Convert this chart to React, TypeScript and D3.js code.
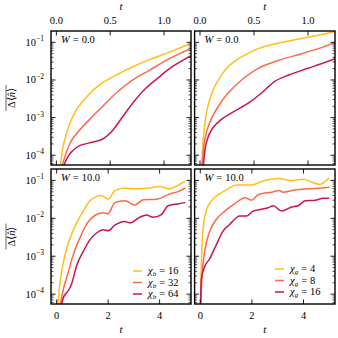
import React from "react";
import * as d3 from "d3";

// [t, value] pairs
const w0Bond16 = [[0.02,1.6e-5],[0.04,6.0e-5],[0.06,1.6e-4],[0.09,3.5e-4],[0.13,7.6e-4],[0.185,1.6e-3],[0.25,2.8e-3],[0.29,3.8e-3],[0.40,7.4e-3],[0.555,1.35e-2],[0.71,2.24e-2],[0.864,3.47e-2],[1.05,5.5e-2],[1.25,9.3e-2]];
const w0Bond32 = [[0.03,1.6e-5],[0.06,6.0e-5],[0.09,1.12e-4],[0.12,1.9e-4],[0.16,3.0e-4],[0.22,4.8e-4],[0.31,9.1e-4],[0.43,2.0e-3],[0.555,4.5e-3],[0.71,1.0e-2],[0.864,1.8e-2],[1.05,3.7e-2],[1.25,6.9e-2]];
const w0Bond64 = [[0.05,1.6e-5],[0.077,6.0e-5],[0.11,9.5e-5],[0.14,1.23e-4],[0.22,1.82e-4],[0.34,2.24e-4],[0.43,2.7e-4],[0.52,4.5e-4],[0.62,1.1e-3],[0.71,2.45e-3],[0.83,6.0e-3],[0.96,1.23e-2],[1.05,2.0e-2],[1.25,4.4e-2]];

const w0Gauss4 = [[0.0,1e-5],[0.015,5e-5],[0.03,2.7e-4],[0.06,1.35e-3],[0.11,4.5e-3],[0.17,1.0e-2],[0.26,2.24e-2],[0.385,4.1e-2],[0.54,6.8e-2],[0.725,9.5e-2],[0.94,0.126],[1.095,0.155],[1.25,0.19]];
const w0Gauss8 = [[0.0,1e-5],[0.02,5e-5],[0.045,2.7e-4],[0.09,7.4e-4],[0.17,2.0e-3],[0.26,4.5e-3],[0.385,1.0e-2],[0.54,2.04e-2],[0.725,3.3e-2],[0.94,5.0e-2],[1.095,6.8e-2],[1.25,0.1]];
const w0Gauss16 = [[0.01,1e-5],[0.03,5e-5],[0.06,2.24e-4],[0.11,4.9e-4],[0.20,9.1e-4],[0.32,1.48e-3],[0.45,2.45e-3],[0.57,4.5e-3],[0.69,9.1e-3],[0.82,1.35e-2],[1.0,2.04e-2],[1.13,2.75e-2],[1.25,3.7e-2]];

const w10Bond16 = [[0,2.5e-5],[0.13,2.0e-4],[0.32,1.07e-3],[0.52,3.0e-3],[0.78,7.6e-3],[1.03,1.55e-2],[1.29,2.9e-2],[1.5,3.6e-2],[1.68,4.0e-2],[1.81,3.8e-2],[2.0,3.2e-2],[2.26,5.4e-2],[2.65,6.3e-2],[3.0,6.0e-2],[3.23,6.0e-2],[3.62,6.3e-2],[4.0,6.9e-2],[4.39,6.0e-2],[4.7,7.4e-2],[5.0,9.5e-2]];
const w10Bond32 = [[0.05,2.5e-5],[0.26,1.35e-4],[0.45,3.8e-4],[0.64,1.07e-3],[0.9,3.0e-3],[1.16,6.9e-3],[1.55,1.26e-2],[1.81,1.4e-2],[2.0,1.32e-2],[2.26,2.6e-2],[2.65,2.9e-2],[3.04,2.24e-2],[3.36,3.1e-2],[3.88,3.2e-2],[4.39,4.4e-2],[4.7,5.0e-2],[5.0,6.3e-2]];
const w10Bond64 = [[0.1,2.5e-5],[0.26,8.1e-5],[0.45,1.23e-4],[0.58,1.86e-4],[0.78,5.8e-4],[1.03,1.32e-3],[1.29,2.7e-3],[1.55,4.1e-3],[1.81,5.0e-3],[2.0,4.7e-3],[2.26,6.6e-3],[2.65,8.3e-3],[2.84,7.6e-3],[3.23,1.07e-2],[3.49,1.23e-2],[3.74,1.07e-2],[4.07,1.26e-2],[4.33,2.14e-2],[4.7,2.4e-2],[5.0,2.6e-2]];

const w10Gauss4 = [[0,2.5e-5],[0.04,5.8e-4],[0.1,4.6e-3],[0.23,1.55e-2],[0.43,2.9e-2],[0.75,4.4e-2],[1.08,6.0e-2],[1.4,7.6e-2],[1.98,7.6e-2],[2.5,0.1],[3.02,0.112],[3.54,0.1],[4.0,0.107],[4.31,9.1e-2],[4.63,7.8e-2],[4.82,9.1e-2],[5.0,0.117]];
const w10Gauss8 = [[0,2.5e-5],[0.07,3.1e-4],[0.17,1.32e-3],[0.37,4.6e-3],[0.62,9.3e-3],[0.95,1.55e-2],[1.34,2.45e-2],[1.73,3.5e-2],[1.98,3.0e-2],[2.24,4.2e-2],[2.76,4.9e-2],[3.07,5.4e-2],[3.2,4.9e-2],[3.67,5.6e-2],[4.19,6.0e-2],[4.71,6.3e-2],[5.0,6.6e-2]];
const w10Gauss16 = [[0,2.5e-5],[0.04,2.5e-4],[0.14,4.7e-4],[0.37,8.7e-4],[0.62,2.0e-3],[0.88,4.6e-3],[1.14,6.9e-3],[1.53,1.15e-2],[1.79,1.15e-2],[2.05,1.55e-2],[2.37,1.74e-2],[2.63,1.9e-2],[2.83,2.14e-2],[3.15,1.55e-2],[3.54,2.0e-2],[3.79,2.14e-2],[4.06,2.9e-2],[4.45,3.0e-2],[4.77,3.4e-2],[5.0,3.4e-2]];

const colors = ["#ffbf17", "#fd6a4a", "#c9164e"];
const bondLabels = ["16", "32", "64"];
const gaussLabels = ["4", "8", "16"];
const shortTicks = [0, 0.5, 1.0];
const longTicks = [0, 2, 4];
const yTicks = [1e-4, 1e-3, 1e-2, 1e-1];

const FONT = "Liberation Serif";

const panels = [
  { id: "a", x0: 51, x1: 191, y0: 31, y1: 165, xd: [-0.05, 1.25], ticks: shortTicks, fmt: d3.format(".1f"), W: "0.0", series: [w0Bond16, w0Bond32, w0Bond64], left: true, top: true },
  { id: "b", x0: 194.6, x1: 335, y0: 31, y1: 165, xd: [-0.05, 1.25], ticks: shortTicks, fmt: d3.format(".1f"), W: "0.0", series: [w0Gauss4, w0Gauss8, w0Gauss16], left: false, top: true },
  { id: "c", x0: 51, x1: 191, y0: 169, y1: 304, xd: [-0.22, 5.22], ticks: longTicks, fmt: d3.format("d"), W: "10.0", series: [w10Bond16, w10Bond32, w10Bond64], left: true, top: false, legend: { sub: "b", labels: bondLabels, lx: 133, ly: 271 } },
  { id: "d", x0: 194.6, x1: 335, y0: 169, y1: 304, xd: [-0.22, 5.22], ticks: longTicks, fmt: d3.format("d"), W: "10.0", series: [w10Gauss4, w10Gauss8, w10Gauss16], left: false, top: false, legend: { sub: "g", labels: gaussLabels, lx: 275, ly: 269 } },
];

function Panel({ p }: any) {
  const x = d3.scaleLinear().domain(p.xd).range([p.x0, p.x1]);
  const y = d3.scaleLog().domain([5.5e-5, 0.2]).range([p.y1, p.y0]);
  const line = d3.line<any>().x(d => x(d[0])).y(d => y(d[1]))
    .curve(p.top ? d3.curveCatmullRom.alpha(0.5) : d3.curveMonotoneX);
  const minor: number[] = [];
  for (let e = -5; e <= -1; e++) for (let m = 2; m <= 9; m++) {
    const v = m * Math.pow(10, e);
    if (v > 5.5e-5 && v < 0.2) minor.push(v);
  }
  const ML = 4.5, ml = 2.5;
  return (
    <g>
      <defs>
        <clipPath id={"clip" + p.id}>
          <rect x={p.x0} y={p.y0} width={p.x1 - p.x0} height={p.y1 - p.y0} />
        </clipPath>
      </defs>
      <g clipPath={`url(#clip${p.id})`}>
        {p.series.map((s: any, i: number) => (
          <path key={i} d={line(s) || ""} fill="none" stroke={colors[i]} strokeWidth={1.5} />
        ))}
      </g>
      {yTicks.map(v => (
        <g key={v} stroke="#000" strokeWidth={0.9}>
          <line x1={p.x0} x2={p.x0 + ML} y1={y(v)} y2={y(v)} />
          <line x1={p.x1} x2={p.x1 - ML} y1={y(v)} y2={y(v)} />
        </g>
      ))}
      {minor.map(v => (
        <g key={v} stroke="#000" strokeWidth={0.7}>
          <line x1={p.x0} x2={p.x0 + ml} y1={y(v)} y2={y(v)} />
          <line x1={p.x1} x2={p.x1 - ml} y1={y(v)} y2={y(v)} />
        </g>
      ))}
      {p.ticks.map((t: number) => (
        <g key={t} stroke="#000" strokeWidth={0.9}>
          <line x1={x(t)} x2={x(t)} y1={p.y0} y2={p.y0 + ML} />
          <line x1={x(t)} x2={x(t)} y1={p.y1} y2={p.y1 - ML} />
        </g>
      ))}
      <rect x={p.x0} y={p.y0} width={p.x1 - p.x0} height={p.y1 - p.y0} fill="none" stroke="#000" strokeWidth={1.4} />
      {p.ticks.map((t: number) => (
        <text key={"l" + t} x={x(t)} y={p.top ? 23.5 : 318.5} textAnchor="middle" fontSize={10.5} fontFamily={FONT}>{p.fmt(t)}</text>
      ))}
      <text x={(p.x0 + p.x1) / 2} y={p.top ? 10 : 333} textAnchor="middle" fontSize={11} fontStyle="italic" fontFamily={FONT}>t</text>
      {p.left && yTicks.map(v => (
        <text key={"y" + v} x={p.x0 - 7} y={y(v) + 3.5} textAnchor="end" fontSize={10.5} fontFamily={FONT}>
          10<tspan dy={-4.5} fontSize={7.5}>{"\u2212" + Math.round(-Math.log10(v))}</tspan>
        </text>
      ))}
      {p.left && (
        <g transform={`translate(15,${(p.y0 + p.y1) / 2}) rotate(-90)`}>
          <text x={0} y={0} textAnchor="middle" fontSize={10.5} fontFamily={FONT}>
            Δ⟨<tspan fontStyle="italic">n̂</tspan>⟩
          </text>
          <line x1={-13} x2={13} y1={-9} y2={-9} stroke="#000" strokeWidth={0.6} />
        </g>
      )}
      <text x={p.x0 + 10} y={p.y0 + 11.5} fontSize={10.5} fontFamily={FONT}>
        <tspan fontStyle="italic">W</tspan>
        <tspan dx={3}>=</tspan>
        <tspan dx={3}>{p.W}</tspan>
      </text>
      {p.legend && p.legend.labels.map((lab: string, i: number) => (
        <g key={"lg" + i}>
          <line x1={p.legend.lx} x2={p.legend.lx + 9} y1={p.legend.ly + i * 11.5} y2={p.legend.ly + i * 11.5} stroke={colors[i]} strokeWidth={1.5} />
          <text x={p.legend.lx + 15} y={p.legend.ly + i * 11.5 + 3} fontSize={10.5} fontFamily={FONT}>
            <tspan fontStyle="italic">χ</tspan>
            <tspan dy={2} fontSize={7} fontStyle="italic">{p.legend.sub}</tspan>
            <tspan dy={-2} dx={3}>=</tspan>
            <tspan dx={3}>{lab}</tspan>
          </text>
        </g>
      ))}
    </g>
  );
}

export default function App() {
  return (
    <svg width={338} height={338} style={{ position: "absolute", left: 0, top: 0, background: "#fff" }}>
      {panels.map(p => <Panel key={p.id} p={p} />)}
    </svg>
  );
}
